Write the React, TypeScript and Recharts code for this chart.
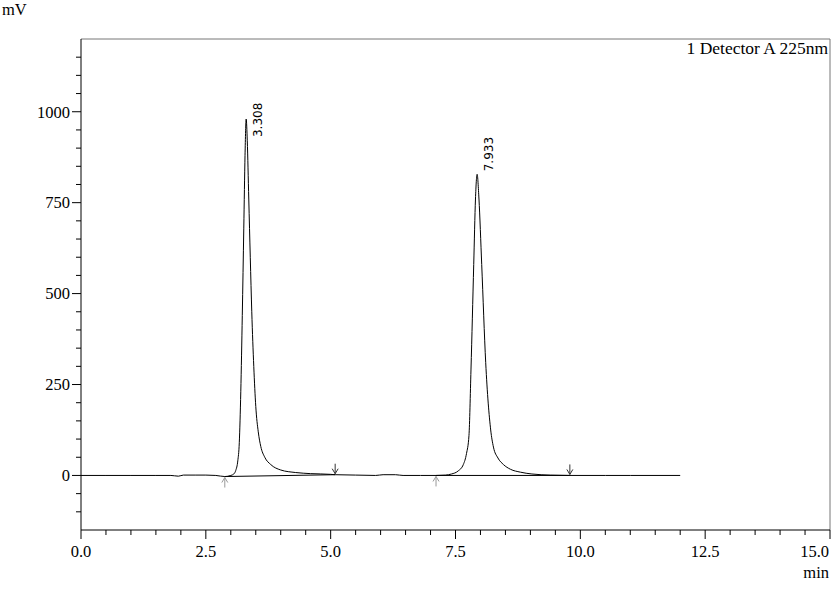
import React from "react";
import { LineChart, Line, XAxis, YAxis, ReferenceLine, ReferenceDot } from "recharts";

// Retention time (min)
const times = [
  0, 0.5, 1.0, 1.5, 1.8, 1.95, 2.05, 2.3, 2.5, 2.7, 2.88, 3.0, 3.06, 3.1, 3.14, 3.17, 3.2, 3.23, 3.26, 3.285,
  3.308, 3.33, 3.36, 3.39, 3.42, 3.46, 3.5, 3.55, 3.6, 3.68, 3.8, 4.0, 4.3, 4.6, 5.0, 5.09, 5.5, 5.9, 6.05,
  6.3, 6.45, 6.8, 7.11, 7.3, 7.42, 7.55, 7.657, 7.72, 7.77, 7.81, 7.865, 7.9, 7.933, 7.97, 8.025, 8.105,
  8.205, 8.26, 8.35, 8.46, 8.6, 8.8, 9.03, 9.4, 9.79, 10.5, 11.0, 12.0,
];
// Detector signal (mV)
const signal = [
  0, 0, 0, 0, 0, -2, 1, 1, 1, 0, -3, 0, 4, 14, 40, 90, 230, 440, 680, 880,
  980, 920, 760, 600, 450, 300, 190, 120, 80, 50, 30, 15, 8, 5, 3, 2, 1, 0, 2,
  2, 0, 0, 0, 1, 4, 12, 30, 60, 110, 290, 580, 760, 828, 760, 580, 310,
  125, 78, 48, 30, 17, 9, 4, 1, 0, 0, 0, 0,
];

const peakTimes = [3.308, 7.933];
const peakHeights = [980, 828];
const peakLabels = ["3.308", "7.933"];
const peakLabelShift = [18, -3];

const integStart = [2.88, 7.11];
const integStartVal = [-3, 0];
const integEnd = [5.09, 9.79];
const integEndVal = [2, 0];

const xTicks = Array.from({ length: 31 }, (_, i) => i * 0.5);
const yTicks = Array.from({ length: 26 }, (_, i) => -100 + i * 50);

const data = times.map((t, i) => ({ t, v: signal[i] }));

const SERIF = "'Liberation Serif', 'Times New Roman', serif";

const YTick = (props: any) => {
  const { x, y, payload } = props;
  const v = payload.value;
  const major = v % 250 === 0;
  const len = major ? 9 : 5;
  return (
    <g>
      <line x1={x - len} x2={x} y1={y} y2={y} stroke="#000" strokeWidth={1} />
      {major && (
        <text x={x - len - 2} y={y} dy="0.35em" textAnchor="end" fontFamily={SERIF} fontSize={16.5} fill="#000">
          {v}
        </text>
      )}
    </g>
  );
};

const XTick = (props: any) => {
  const { x, y, payload } = props;
  const v = payload.value;
  const major = Math.abs(v / 2.5 - Math.round(v / 2.5)) < 1e-6;
  const len = major ? 9 : 5;
  const last = v >= 15;
  return (
    <g>
      <line x1={x} x2={x} y1={y} y2={y + len} stroke="#000" strokeWidth={1} />
      {major && (
        <text
          x={last ? x - 1 : x}
          y={y + 27}
          textAnchor={last ? "end" : "middle"}
          fontFamily={SERIF}
          fontSize={16.5}
          fill="#000"
        >
          {v.toFixed(1)}
        </text>
      )}
    </g>
  );
};

const UpArrow = (props: any) => {
  const { cx, cy } = props;
  return (
    <g stroke="#999" strokeWidth={1} fill="none">
      <line x1={cx} x2={cx} y1={cy + 1} y2={cy + 11} />
      <polyline points={`${cx - 3},${cy + 6} ${cx},${cy + 1} ${cx + 3},${cy + 6}`} />
    </g>
  );
};

const DownArrow = (props: any) => {
  const { cx, cy } = props;
  return (
    <g stroke="#333" strokeWidth={1} fill="none">
      <line x1={cx} x2={cx} y1={cy - 11} y2={cy - 1} />
      <polyline points={`${cx - 3},${cy - 6} ${cx},${cy - 1} ${cx + 3},${cy - 6}`} />
    </g>
  );
};

const makePeakLabel = (label: string, shift: number) => (props: any) => {
  const { cx, cy } = props;
  const tx = cx + 12;
  const ty = cy + shift;
  return (
    <text
      x={tx}
      y={ty}
      transform={`rotate(-90 ${tx} ${ty})`}
      dy="0.35em"
      textAnchor="start"
      fontFamily="'DejaVu Sans', sans-serif"
      fontSize={12}
      fill="#000"
    >
      {label}
    </text>
  );
};

export default function App() {
  return (
    <div style={{ position: "absolute", left: 0, top: 0, width: 838, height: 589, background: "#fff" }}>
      <LineChart width={838} height={589} data={data} margin={{ top: 39, right: 8, bottom: 29, left: 0 }}>
        <XAxis
          dataKey="t"
          type="number"
          domain={[0, 15]}
          ticks={xTicks}
          interval={0}
          height={30}
          tickSize={0}
          tickMargin={0}
          tickLine={false}
          axisLine={{ stroke: "#000", strokeWidth: 1 }}
          tick={<XTick />}
          allowDataOverflow
        />
        <YAxis
          type="number"
          domain={[-150, 1200]}
          ticks={yTicks}
          interval={0}
          width={81}
          tickSize={0}
          tickMargin={0}
          tickLine={false}
          axisLine={{ stroke: "#000", strokeWidth: 1 }}
          tick={<YTick />}
          allowDataOverflow
        />
        <ReferenceLine y={1200} stroke="#777" strokeWidth={1} />
        <ReferenceLine x={15} stroke="#777" strokeWidth={1} />
        {integStart.map((s, i) => (
          <ReferenceLine
            key={"seg" + i}
            segment={[
              { x: s, y: integStartVal[i] },
              { x: integEnd[i], y: integEndVal[i] },
            ]}
            stroke="#000"
            strokeWidth={1}
          />
        ))}
        <Line type="monotone" dataKey="v" stroke="#000" strokeWidth={1} dot={false} isAnimationActive={false} />
        {integStart.map((s, i) => (
          <ReferenceDot key={"ua" + i} x={s} y={integStartVal[i]} r={0} shape={<UpArrow />} />
        ))}
        {integEnd.map((s, i) => (
          <ReferenceDot key={"da" + i} x={s} y={integEndVal[i]} r={0} shape={<DownArrow />} />
        ))}
        {peakTimes.map((p, i) => (
          <ReferenceDot
            key={"pl" + i}
            x={p}
            y={peakHeights[i]}
            r={0}
            shape={makePeakLabel(peakLabels[i], peakLabelShift[i])}
          />
        ))}
      </LineChart>
      <svg width={838} height={589} style={{ position: "absolute", left: 0, top: 0, pointerEvents: "none" }}>
        <text x={2} y={15} fontFamily={SERIF} fontSize={16.5} fill="#000">mV</text>
        <text x={829} y={578} textAnchor="end" fontFamily={SERIF} fontSize={16.5} fill="#000">min</text>
        <text x={828} y={54} textAnchor="end" fontFamily={SERIF} fontSize={17.5} fill="#000">1 Detector A 225nm</text>
      </svg>
    </div>
  );
}
